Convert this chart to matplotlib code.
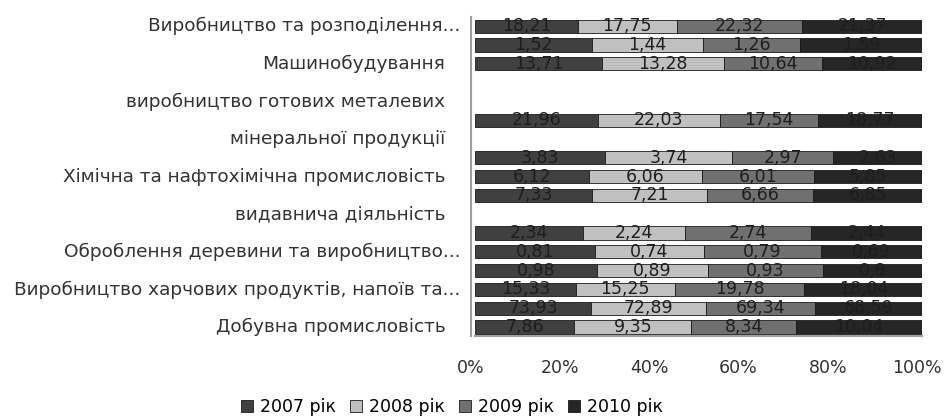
import numpy as np
import matplotlib.pyplot as plt
import matplotlib.transforms as mtransforms

plt.rcParams['font.family'] = ['DejaVu Sans']

# categories from bottom to top (unlabelled rows keep an empty name)
categories = ["Добувна промисловість", "",
              "Виробництво харчових продуктів, напоїв та...", "",
              "Оброблення деревини та виробництво...", "",
              "видавнича діяльність", "",
              "Хімічна та нафтохімічна промисловість", "",
              "мінеральної продукції", "",
              "виробництво готових металевих", "",
              "Машинобудування", "",
              "Виробництво та розподілення..."]

years = ["2007 рік", "2008 рік", "2009 рік", "2010 рік"]

v2007 = [7.86, 73.93, 15.33, 0.98, 0.81, 2.34, 0, 7.33, 6.12, 3.83, 0, 21.96, 0, 0, 13.71, 1.52, 18.21]
v2008 = [9.35, 72.89, 15.25, 0.89, 0.74, 2.24, 0, 7.21, 6.06, 3.74, 0, 22.03, 0, 0, 13.28, 1.44, 17.75]
v2009 = [8.34, 69.34, 19.78, 0.93, 0.79, 2.74, 0, 6.66, 6.01, 2.97, 0, 17.54, 0, 0, 10.64, 1.26, 22.32]
v2010 = [10.04, 68.59, 18.04, 0.8, 0.69, 2.44, 0, 6.85, 5.85, 2.63, 0, 18.77, 0, 0, 10.92, 1.59, 21.37]

colors = ['#404040', '#c0c0c0', '#707070', '#262626']
fs = 12.5

data = np.array([v2007, v2008, v2009, v2010], dtype=float)
totals = data.sum(axis=0)
totals[totals == 0] = 1
shares = data / totals

fig = plt.figure(figsize=(9.45, 4.19), dpi=100)
ax = fig.add_axes([0.503, 0.197, 0.473, 0.763])

y = np.arange(len(categories))
left = np.zeros(len(categories))
for i in range(4):
    m = data[i] > 0
    ax.barh(y[m], shares[i][m], left=left[m], height=0.7, color=colors[i],
            edgecolor='#1a1a1a', linewidth=0.6, label=years[i])
    for j in np.where(m)[0]:
        txt = ('%g' % data[i, j]).replace('.', ',')
        ax.text(left[j] + shares[i, j] / 2, y[j], txt, ha='center', va='center',
                fontsize=fs, color='#1e1e1e')
    left += shares[i]

ax.set_xlim(0, 1)
ax.set_ylim(-0.5, len(categories) - 0.5)
ax.tick_params(axis='x', length=0, pad=16, labelsize=fs, labelcolor='#333333')
ax.set_xticks([0, 0.2, 0.4, 0.6, 0.8, 1.0])
ax.set_xticklabels(['0%', '20%', '40%', '60%', '80%', '100%'])
offset = mtransforms.ScaledTranslation(-5 / 100, 0, fig.dpi_scale_trans)
for lab in ax.get_xticklabels():
    lab.set_transform(lab.get_transform() + offset)

# category names drawn beside the axis; ellipsis labels sit a bit closer
ax.set_yticks([])
base = ax.get_yaxis_transform()
for yi, name in zip(y, categories):
    if not name:
        continue
    dx = -15 if name.endswith('...') else -30
    tr = base + mtransforms.ScaledTranslation(dx / 100, 0, fig.dpi_scale_trans)
    ax.text(0, yi, name, transform=tr, ha='right', va='center',
            fontsize=13.3, color='#333333')

for s in ['top', 'right']:
    ax.spines[s].set_visible(False)
ax.spines['left'].set_color('#a0a0a0')
ax.spines['left'].set_linewidth(1.5)
ax.spines['left'].set_position(('outward', 3))
ax.spines['bottom'].set_color('#a0a0a0')
ax.spines['bottom'].set_linewidth(1.5)

fig.legend(loc='center', bbox_to_anchor=(0.478, 0.029), ncol=4, frameon=False,
           fontsize=fs, handlelength=0.7, handleheight=0.7, handletextpad=0.4,
           columnspacing=0.8)

fig.savefig('out.png', dpi=100)
